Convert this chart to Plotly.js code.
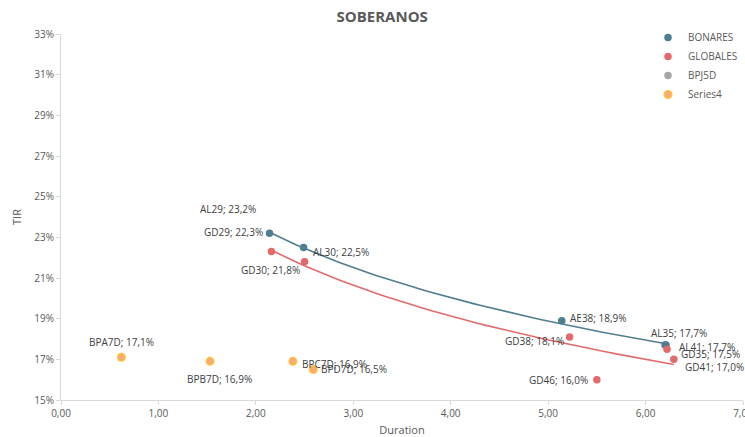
<!DOCTYPE html>
<html>
<head>
<meta charset="utf-8">
<script src="https://cdn.plot.ly/plotly-3.0.1.min.js"></script>
<style>html,body{margin:0;padding:0;background:#fff}#chart{width:745px;height:437px}</style>
</head>
<body>
<div id="chart"></div>
<script>
// BONARES
const bonaresNames = ['AL29','AL30','AE38','AL35','AL41'];
const bonaresDur   = [2.14, 2.49, 5.14, 6.20, 6.21];
const bonaresTir   = [23.2, 22.5, 18.9, 17.7, 17.7];
// GLOBALES
const globalesNames = ['GD29','GD30','GD38','GD35','GD41','GD46'];
const globalesDur   = [2.16, 2.50, 5.22, 6.22, 6.29, 5.50];
const globalesTir   = [22.3, 21.8, 18.1, 17.5, 17.0, 16.0];
// Series4
const s4Names = ['BPA7D','BPB7D','BPC7D','BPD7D'];
const s4Dur   = [0.62, 1.53, 2.38, 2.59];
const s4Tir   = [17.1, 16.9, 16.9, 16.5];
// axis ticks
const xTicks = [0,1,2,3,4,5,6,7];
const xTickText = ['0,00','1,00','2,00','3,00','4,00','5,00','6,00','7,00'];
const yTicks = [15,17,19,21,23,25,27,29,31,33];
const yTickText = ['15%','17%','19%','21%','23%','25%','27%','29%','31%','33%'];

const blue = '#4F7D91', red = '#E36A6A', grey = '#A5A5A5', orange = '#F9AA76';
const font = 'Open Sans, Liberation Sans, sans-serif';

function logFit(xs, ys) {
  const n = xs.length; let sx=0, sy=0, sxx=0, sxy=0;
  for (let i=0;i<n;i++){const l=Math.log(xs[i]); sx+=l; sy+=ys[i]; sxx+=l*l; sxy+=l*ys[i];}
  const b=(n*sxy-sx*sy)/(n*sxx-sx*sx); const a=(sy-b*sx)/n;
  const lo=Math.min(...xs), hi=Math.max(...xs); const X=[],Y=[];
  for(let k=0;k<=60;k++){const x=lo+(hi-lo)*k/60; X.push(x); Y.push(a+b*Math.log(x));}
  return {X,Y};
}
const fb = logFit(bonaresDur, bonaresTir);
const fg = logFit(globalesDur, globalesTir);

const mk = (c, lc) => ({size: 7.5, color: c, line: {color: lc || c, width: lc ? 1.5 : 0}});
const traces = [
  {x: fb.X, y: fb.Y, mode: 'lines', line: {color: blue, width: 1.6}, showlegend: false, hoverinfo: 'skip'},
  {x: fg.X, y: fg.Y, mode: 'lines', line: {color: red, width: 1.6}, showlegend: false, hoverinfo: 'skip'},
  {x: bonaresDur, y: bonaresTir, mode: 'markers', name: 'BONARES', marker: mk(blue)},
  {x: globalesDur, y: globalesTir, mode: 'markers', name: 'GLOBALES', marker: mk(red)},
  {x: [null], y: [null], mode: 'markers', name: 'BPJ5D', marker: mk(grey)},
  {x: s4Dur, y: s4Tir, mode: 'markers', name: 'Series4', marker: mk(orange, '#FFC13B')}
];

const fmt = v => v.toFixed(1).replace('.', ',') + '%';
// label placement: [xanchor, xshift, yshift]
const bonPos = [['center',-42,24],['left',7,-4],['left',6,3],['center',14,12],['left',11,-2]];
const gloPos = [['center',-38,20],['center',-34,-8],['center',-35,-4],['left',12,-5],['left',9,-8],['right',-7,0]];
const s4Pos  = [['center',0,15],['center',9,-18],['left',7,-3],['left',6,1]];
const ann = [];
function addLabels(names, xs, ys, pos) {
  names.forEach((n,i) => {
    ann.push({x: xs[i], y: ys[i], text: n + '; ' + fmt(ys[i]), showarrow: false,
      xanchor: pos[i][0], yanchor: 'middle', xshift: pos[i][1], yshift: pos[i][2],
      font: {family: font, size: 10, color: '#404040'}});
  });
}
addLabels(bonaresNames, bonaresDur, bonaresTir, bonPos);
addLabels(globalesNames, globalesDur, globalesTir, gloPos);
addLabels(s4Names, s4Dur, s4Tir, s4Pos);

const layout = {
  width: 745, height: 437,
  margin: {l: 61, r: 2, t: 34, b: 37},
  paper_bgcolor: '#fff', plot_bgcolor: '#fff',
  title: {text: '<b>SOBERANOS</b>', x: 0.513, xanchor: 'center', y: 0.962, yanchor: 'middle',
          font: {family: font, size: 15, color: '#595959'}},
  font: {family: font, size: 10, color: '#595959'},
  xaxis: {range: [0, 7], tickvals: xTicks, ticktext: xTickText, showgrid: false, zeroline: false,
          showline: true, linecolor: '#D9D9D9', linewidth: 1, ticks: 'outside', tickcolor: '#D9D9D9',
          ticklen: 4, tickfont: {size: 10, color: '#595959'}, ticklabeloverflow: 'allow',
          title: {text: 'Duration', font: {size: 11, color: '#595959'}, standoff: 9}},
  yaxis: {range: [15, 33], tickvals: yTicks, ticktext: yTickText, showgrid: false, zeroline: false,
          showline: true, linecolor: '#D9D9D9', linewidth: 1, ticks: 'outside', tickcolor: '#D9D9D9',
          ticklen: 4, tickfont: {size: 10, color: '#595959'},
          title: {text: 'TIR', font: {size: 11, color: '#595959'}, standoff: 10}},
  legend: {x: 1.0, xanchor: 'right', y: 1.03, yanchor: 'top', bgcolor: 'rgba(0,0,0,0)',
           font: {size: 10, color: '#595959'}, itemwidth: 30, tracegroupgap: 0},
  annotations: ann,
  showlegend: true
};
Plotly.newPlot('chart', traces, layout, {displayModeBar: false, staticPlot: true});
</script>
</body>
</html>
